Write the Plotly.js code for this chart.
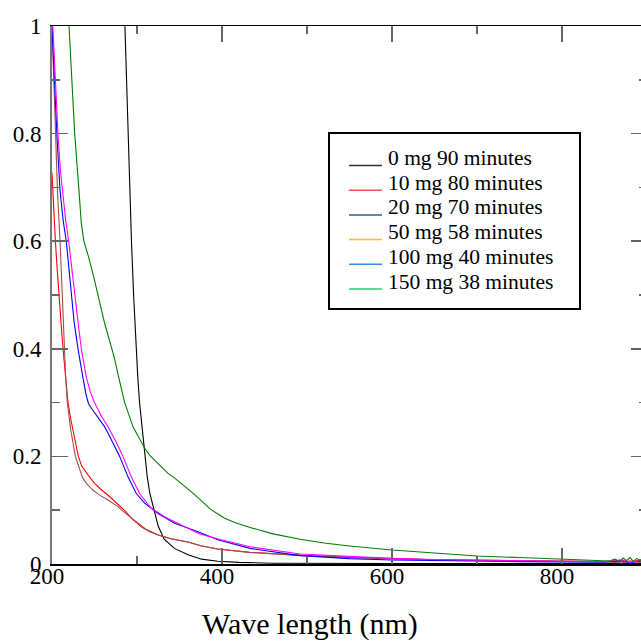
<!DOCTYPE html>
<html>
<head>
<meta charset="utf-8">
<script src="https://cdn.plot.ly/plotly-3.0.1.min.js"></script>
<style>
html,body{margin:0;padding:0;overflow:hidden;background:#fff;}
#chart{width:700px;height:644px;}
</style>
</head>
<body>
<div id="chart"></div>
<script>
// ---- data ----
const seriesNames = ["0 mg 90 minutes","10 mg 80 minutes","20 mg 70 minutes","50 mg 58 minutes","100 mg 40 minutes","150 mg 38 minutes"];
const lineColors = ["#000000","#ff0000","#a05050","#0000ff","#ff00ff","#008000"];
const legendColors = ["#333333","#ff4d4d","#3b5b92","#ffc000","#3a8ee6","#2ecc71"];

const wl0 = [280,285.5,289,293.5,296,299,301,303,306,309,312,315,320,325,332,344,360,376,395,420,460,520,600,700,800,900];
const a0  = [1.3,1.0,0.8,0.6,0.5,0.4,0.345,0.3,0.25,0.2,0.163,0.132,0.1,0.07,0.046,0.029,0.017,0.009,0.005,0.003,0.0015,0.001,0.001,0.001,0.001,0.001];

const wl1 = [200,202,204,206,208,211,213,217,218.8,222,225,231,235,240,245,250,258,268,277,285,295,305,315,325,340,360,375,395,433,492,550,600,650,700,750,800,850,870,880,890,900];
const a1  = [0.727,0.65,0.6,0.55,0.5,0.44,0.4,0.33,0.3,0.27,0.245,0.2,0.182,0.17,0.16,0.15,0.138,0.125,0.112,0.1,0.083,0.069,0.06,0.054,0.047,0.041,0.034,0.028,0.0217,0.016,0.0124,0.0099,0.008,0.0068,0.0058,0.005,0.0045,0.006,0.003,0.007,0.004];

const wl2 = [200,202,204,206.5,209.5,212,214,216,218,222,227.5,232.5,236,240.4,248,256,265.9,277.6,282,290,300,310,325,340,360,375,395,433,492,550,600,650,700,750,800,850,870,880,890,900];
const a2  = [1.0,0.9,0.8,0.69,0.6,0.5,0.4,0.35,0.3,0.25,0.2,0.175,0.16,0.15,0.1375,0.128,0.119,0.1066,0.1,0.09,0.077,0.065,0.054,0.047,0.041,0.034,0.028,0.0215,0.016,0.0122,0.0098,0.0079,0.0066,0.0057,0.005,0.0044,0.002,0.006,0.003,0.005];

const wl3 = [200,203,206,209.4,213,216.8,220,222.7,226,230.6,232.5,236,240,243,247,255,262,267,271.8,279.6,289.4,299.2,309,324.7,344.3,371.8,395,433,492,550,600,650,700,750,800,850,870,880,890,900];
const a3  = [1.0,0.88,0.79,0.695,0.64,0.6,0.55,0.5,0.45,0.4,0.379,0.35,0.315,0.298,0.288,0.27,0.255,0.24,0.224,0.2,0.162,0.131,0.113,0.094,0.0756,0.06,0.045,0.029,0.0155,0.0099,0.0074,0.006,0.005,0.0045,0.004,0.0035,0.006,0.002,0.005,0.003];

const wl4 = [200,201,204,207,210,212.5,216,219.6,223,226.7,230.6,234.5,236.5,240,245,250,258,265.9,275,283.5,293.3,303,316.8,332.5,352,374,400,433,492,550,600,650,700,750,800,850,870,880,890,900];
const a4  = [1.05,1.0,0.9,0.8,0.73,0.69,0.64,0.6,0.55,0.5,0.45,0.4,0.379,0.35,0.32,0.3,0.275,0.255,0.228,0.2,0.162,0.131,0.1035,0.088,0.0725,0.0558,0.0446,0.032,0.0186,0.0136,0.0105,0.0085,0.007,0.006,0.005,0.0045,0.008,0.003,0.006,0.004];

const wl5 = [216,220,226.7,231.7,234.5,237.6,243,249,254,262,270.6,274,278,285.5,295.3,302,309,315,320.8,328,336.5,344,352,364,374,379.6,387,395.3,402,415,433,460,492,520,550,600,650,700,750,800,830,856,862,868,872,876,880,884,888,892,896,900];
const a5  = [1.12,1.0,0.8,0.695,0.633,0.599,0.571,0.534,0.499,0.447,0.399,0.379,0.35,0.3,0.255,0.235,0.215,0.202,0.193,0.18,0.1685,0.16,0.15,0.134,0.12,0.112,0.101,0.093,0.086,0.077,0.068,0.056,0.0459,0.039,0.0335,0.026,0.02,0.0149,0.012,0.0093,0.0075,0.0056,0.009,0.004,0.011,0.006,0.012,0.005,0.01,0.007,0.013,0.008];

const xTickVals = [200,400,600,800];
const yTickVals = [0,0.2,0.4,0.6,0.8,1];
const xTitle = "Wave length (nm)";

// ---- build ----
const wls = [wl0,wl1,wl2,wl3,wl4,wl5];
const abs = [a0,a1,a2,a3,a4,a5];
const traces = wls.map((w,i)=>({
  x: w, y: abs[i], type:'scatter', mode:'lines', name: seriesNames[i],
  showlegend:false, line:{color:lineColors[i], width:1.1}, hoverinfo:'skip'
}));

const W = 700, H = 644, ML = 52, MR = 53, MT = 26, MB = 80;
const PW = W-ML-MR, PH = H-MT-MB;
const px = v => (v-ML)/PW;          // pixel x -> paper
const py = v => (H-MB-v)/PH;        // pixel y -> paper

const serif = "'Liberation Serif','Times New Roman',serif";
const shapes = [{type:'rect', xref:'paper', yref:'paper', x0:px(329), x1:px(580), y0:py(309), y1:py(133),
  line:{color:'#000', width:2}, fillcolor:'rgba(0,0,0,0)'}];
const annotations = [{text:xTitle, xref:'paper', yref:'paper', x:px(310), y:py(624), xanchor:'center', yanchor:'middle',
  showarrow:false, font:{family:serif, size:30, color:'#000'}}];
seriesNames.forEach((n,i)=>{
  const yc = 158 + i*24.7;
  shapes.push({type:'line', xref:'paper', yref:'paper', x0:px(349), x1:px(382), y0:py(yc+7.5), y1:py(yc+7.5),
    line:{color:legendColors[i], width:1.5}});
  annotations.push({text:n, xref:'paper', yref:'paper', x:px(386), y:py(yc), xanchor:'left', yanchor:'middle',
    showarrow:false, font:{family:serif, size:21.5, color:'#000'}});
});

const layout = {
  width:W, height:H, margin:{l:ML, r:MR, t:MT, b:MB, pad:0},
  paper_bgcolor:'#fff', plot_bgcolor:'#fff', font:{family:serif, color:'#000'},
  showlegend:false,
  xaxis:{range:[200,900], tickvals:xTickVals, ticks:'inside', ticklen:16, tickwidth:1.5, tickcolor:'#666',
    minor:{dtick:100, tick0:200, ticks:'inside', ticklen:8, tickwidth:1.5, tickcolor:'#666', showgrid:false},
    showline:true, linecolor:'#000', linewidth:1.5, mirror:'ticks', showgrid:false, zeroline:false,
    tickfont:{family:serif, size:23, color:'#000'}, ticklabelshift:-5, ticklabelstandoff:-9},
  yaxis:{range:[0,1], tickvals:yTickVals, ticks:'inside', ticklen:16, tickwidth:1.5, tickcolor:'#666',
    minor:{dtick:0.1, tick0:0, ticks:'inside', ticklen:8, tickwidth:1.5, tickcolor:'#666', showgrid:false},
    showline:true, linecolor:'#777', linewidth:2, mirror:'ticks', showgrid:false, zeroline:false,
    tickfont:{family:serif, size:23, color:'#000'}, ticklabelstandoff:4},
  shapes: shapes, annotations: annotations
};

Plotly.newPlot('chart', traces, layout, {staticPlot:true, displayModeBar:false});
</script>
</body>
</html>
